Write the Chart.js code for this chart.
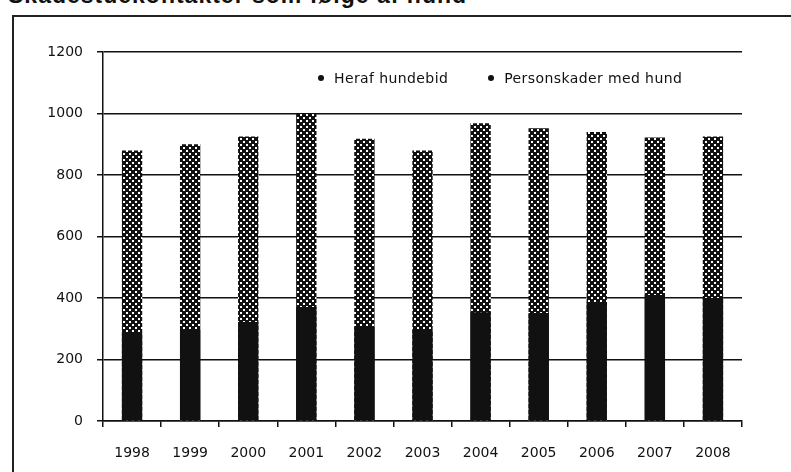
<!DOCTYPE html>
<html>
<head>
<meta charset="utf-8">
<script src="https://cdn.jsdelivr.net/npm/chart.js@4.4.1/dist/chart.umd.min.js"></script>
<style>
  html, body { margin: 0; padding: 0; background: #fff; }
  #wrap { position: relative; width: 791px; height: 472px; overflow: hidden; }
  #title {
    position: absolute; left: 8px; top: -18px;
    font: bold 23px "Liberation Sans", Arial, sans-serif; color: #111;
    white-space: nowrap; letter-spacing: 1px;
  }
  #frame {
    position: absolute; left: 12px; top: 15px; width: 820px; height: 500px;
    border-left: 2px solid #222; border-top: 2px solid #222;
  }
  #legend {
    position: absolute; top: 70px; left: 318px;
    font: 14px "DejaVu Sans", sans-serif; color: #111;
    display: flex; gap: 40px; white-space: nowrap; letter-spacing: 0.4px;
  }
  #legend span.item { display: flex; align-items: center; }
  #legend i { display: inline-block; width: 6px; height: 6px; background: #111; margin-right: 10px; border-radius: 50%; }
  #chart { position: absolute; left: 0; top: 0; }
</style>
</head>
<body>
<div id="wrap">
  <div id="title">Skadestuekontakter som følge af hund</div>
  <div id="frame"></div>
  <canvas id="chart" width="791" height="472"></canvas>
  <div id="legend"></div>
</div>
<script>
// ---- data ----
const years = ['1998', '1999', '2000', '2001', '2002', '2003', '2004', '2005', '2006', '2007', '2008'];
const personskader = [880, 900, 925, 1000, 918, 880, 968, 952, 940, 922, 925];
const hundebid = [286, 296, 322, 371, 306, 296, 354, 351, 387, 410, 400];
const seriesLabels = ['Heraf hundebid', 'Personskader med hund'];
const yTicks = [0, 200, 400, 600, 800, 1000, 1200];

const ink = '#111';
const font = { family: '"DejaVu Sans", sans-serif', size: 14 };

// speckled fill like the print raster
function speckle() {
    const c = document.createElement('canvas');
    c.width = 6; c.height = 6;
    const g = c.getContext('2d');
    g.fillStyle = ink;
    g.fillRect(0, 0, 6, 6);
    g.fillStyle = '#fff';
    g.fillRect(0, 0, 2, 2);
    g.fillRect(3, 3, 2, 2);
    return g.createPattern(c, 'repeat');
}

const ctx = document.getElementById('chart').getContext('2d');

new Chart(ctx, {
    type: 'bar',
    data: {
        labels: years,
        datasets: [
            { label: seriesLabels[0], data: hundebid, backgroundColor: ink },
            { label: seriesLabels[1], data: personskader, backgroundColor: speckle() },
        ],
    },
    options: {
        responsive: false,
        animation: false,
        layout: { padding: { top: 52, right: 49, left: 0, bottom: 0 } },
        datasets: { bar: { barPercentage: 0.35, categoryPercentage: 1 } },
        scales: {
            x: {
                stacked: true,
                afterFit: s => { s.height = 51; },
                grid: { drawOnChartArea: false, color: ink, lineWidth: 1.5, tickLength: 6, offset: true },
                border: { color: ink, width: 1.5 },
                ticks: { color: ink, font, padding: 18, maxRotation: 0 },
            },
            y: {
                stacked: false,
                min: 0, max: 1200,
                afterFit: s => { s.width = 103; },
                afterBuildTicks: s => { s.ticks = yTicks.map(v => ({ value: v })); },
                grid: { color: ink, lineWidth: 1.5, tickLength: 6 },
                border: { color: ink, width: 1.5 },
                ticks: { color: ink, font, padding: 14, callback: v => String(v) },
            },
        },
        plugins: {
            legend: { display: false },
            tooltip: { enabled: false },
        },
    },
});

// legend sits inside the plot, as in the original
const legend = document.getElementById('legend');
seriesLabels.forEach(l => {
    const s = document.createElement('span');
    s.className = 'item';
    s.innerHTML = '<i></i>' + l;
    legend.appendChild(s);
});
</script>
</body>
</html>
